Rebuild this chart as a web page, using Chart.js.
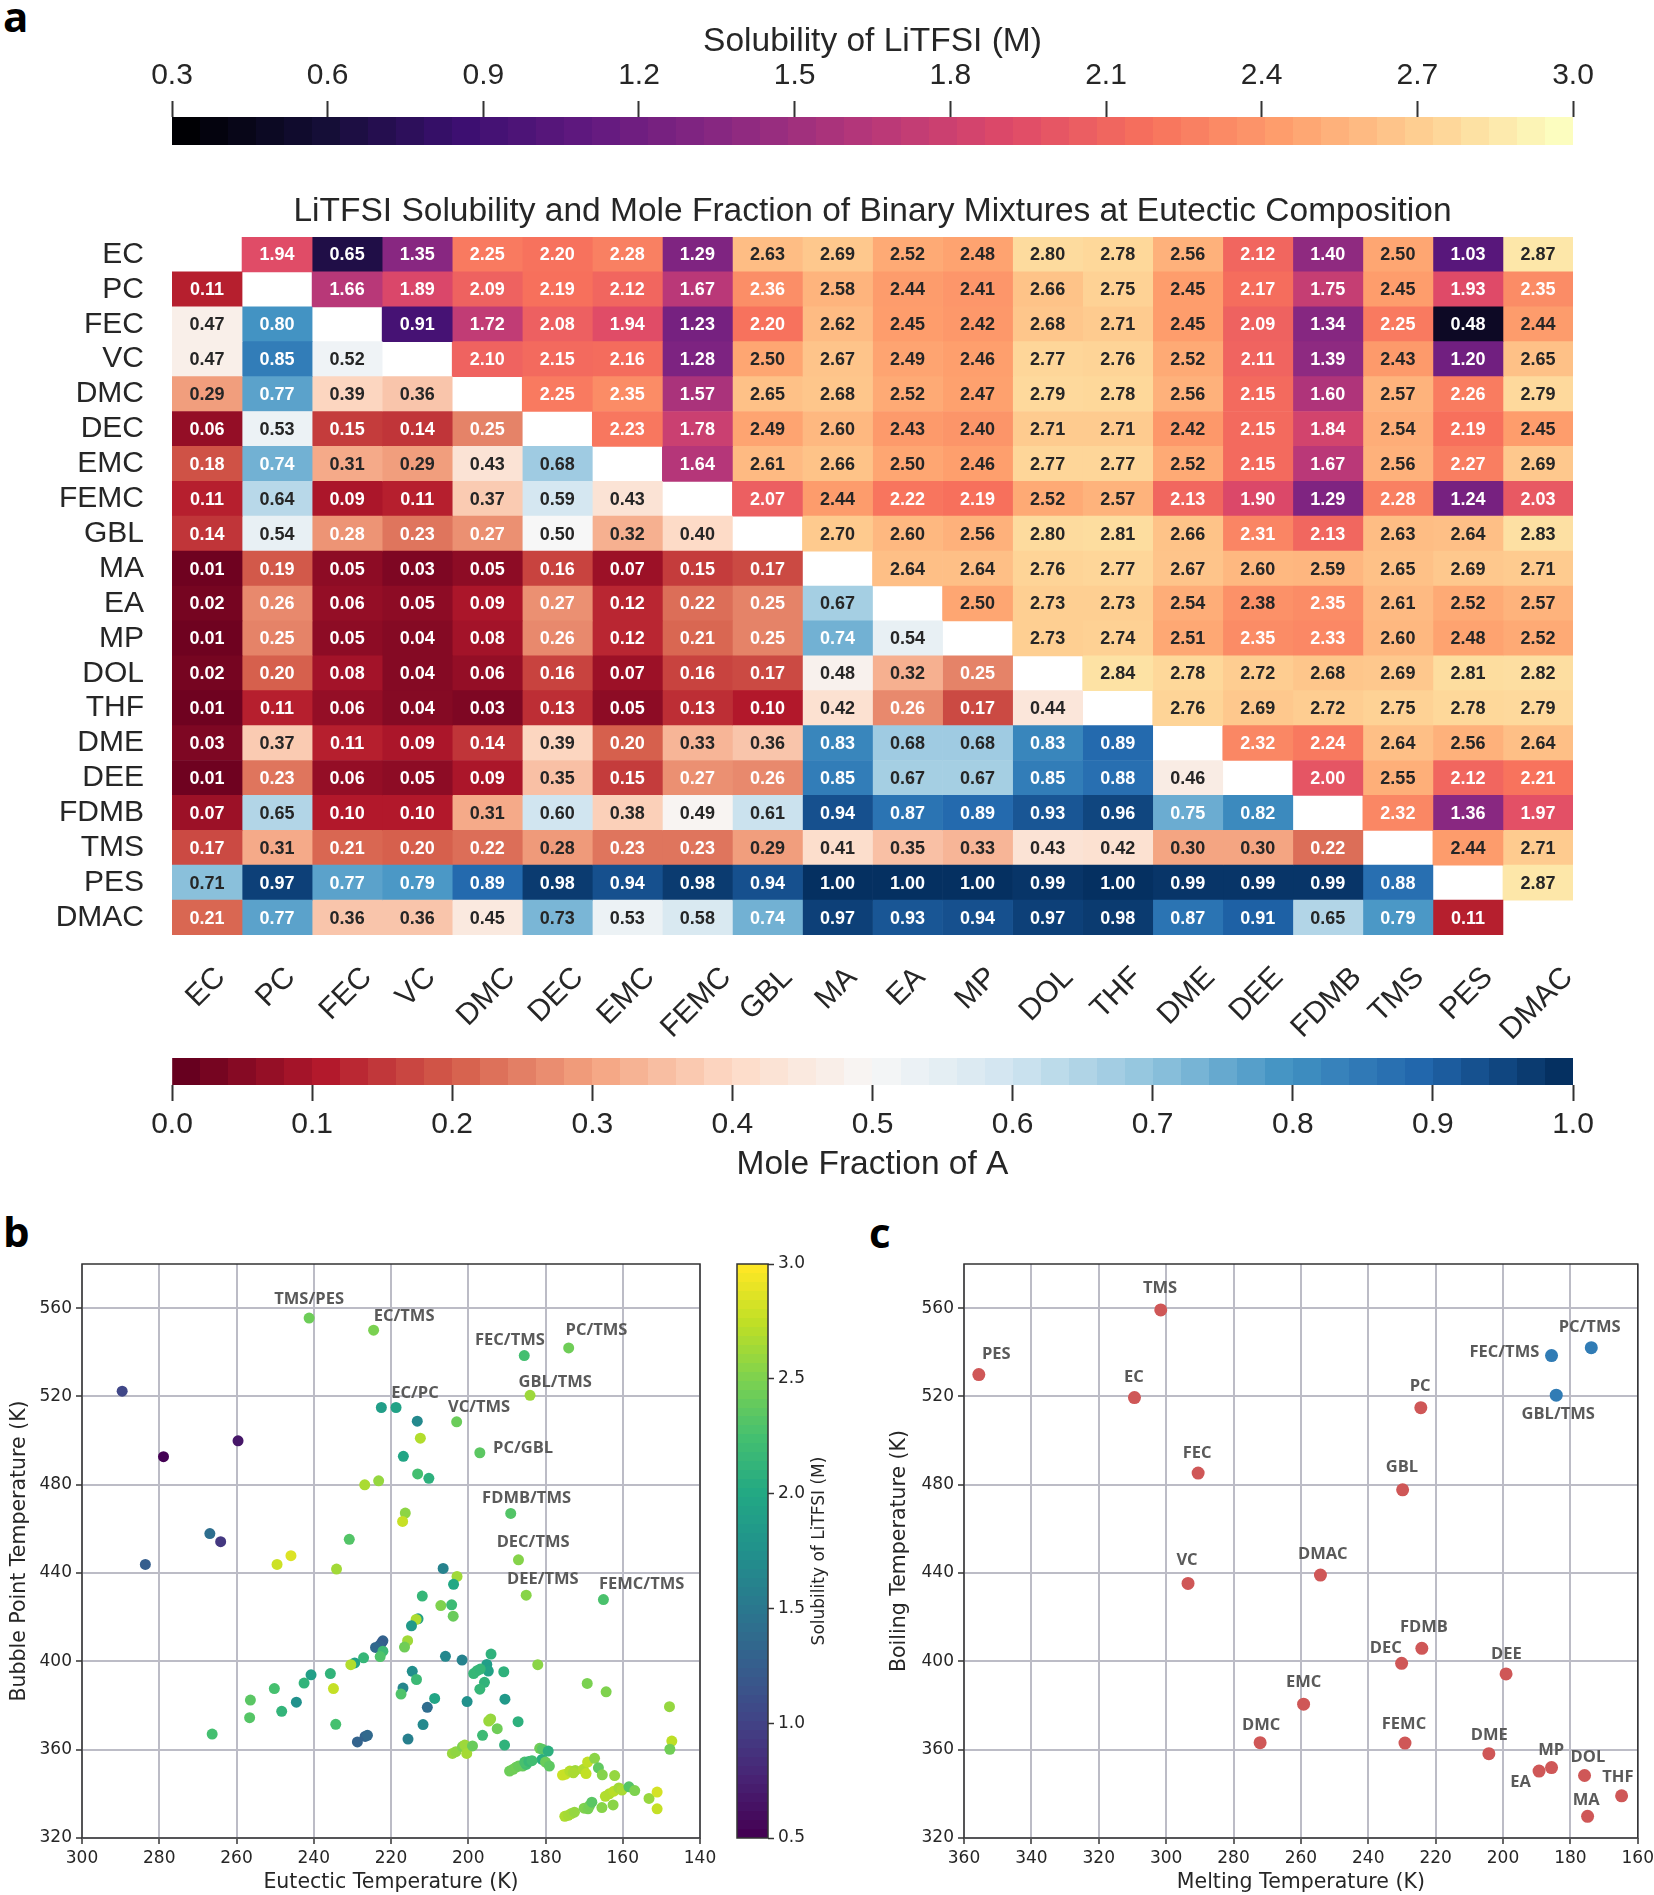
<!DOCTYPE html>
<html>
<head>
<meta charset="utf-8">
<title>LiTFSI solubility</title>
<script src="https://cdn.jsdelivr.net/npm/chart.js@4/dist/chart.umd.min.js"></script>
<style>
    html, body { margin: 0; padding: 0; background: #fff; width: 1654px; height: 1895px; overflow: hidden; }
    .panel { position: absolute; }
    .letter { position: absolute; font: 700 42px "Open Sans", sans-serif; color: #000; line-height: 42px; }
</style>
</head>
<body>
<div class="letter" style="left:3px;top:-5px">a</div>
<div class="letter" style="left:3px;top:1210px">b</div>
<div class="letter" style="left:869px;top:1211px">c</div>
<script>
    "use strict";

    var solvents = ["EC", "PC", "FEC", "VC", "DMC", "DEC", "EMC", "FEMC", "GBL", "MA", "EA", "MP", "DOL", "THF", "DME", "DEE", "FDMB", "TMS", "PES", "DMAC"];

    // above the diagonal: solubility of LiTFSI (M), below it: mole fraction of A
    var cellValues = [
        [null, 1.94, 0.65, 1.35, 2.25, 2.20, 2.28, 1.29, 2.63, 2.69, 2.52, 2.48, 2.80, 2.78, 2.56, 2.12, 1.40, 2.50, 1.03, 2.87],
        [0.11, null, 1.66, 1.89, 2.09, 2.19, 2.12, 1.67, 2.36, 2.58, 2.44, 2.41, 2.66, 2.75, 2.45, 2.17, 1.75, 2.45, 1.93, 2.35],
        [0.47, 0.80, null, 0.91, 1.72, 2.08, 1.94, 1.23, 2.20, 2.62, 2.45, 2.42, 2.68, 2.71, 2.45, 2.09, 1.34, 2.25, 0.48, 2.44],
        [0.47, 0.85, 0.52, null, 2.10, 2.15, 2.16, 1.28, 2.50, 2.67, 2.49, 2.46, 2.77, 2.76, 2.52, 2.11, 1.39, 2.43, 1.20, 2.65],
        [0.29, 0.77, 0.39, 0.36, null, 2.25, 2.35, 1.57, 2.65, 2.68, 2.52, 2.47, 2.79, 2.78, 2.56, 2.15, 1.60, 2.57, 2.26, 2.79],
        [0.06, 0.53, 0.15, 0.14, 0.25, null, 2.23, 1.78, 2.49, 2.60, 2.43, 2.40, 2.71, 2.71, 2.42, 2.15, 1.84, 2.54, 2.19, 2.45],
        [0.18, 0.74, 0.31, 0.29, 0.43, 0.68, null, 1.64, 2.61, 2.66, 2.50, 2.46, 2.77, 2.77, 2.52, 2.15, 1.67, 2.56, 2.27, 2.69],
        [0.11, 0.64, 0.09, 0.11, 0.37, 0.59, 0.43, null, 2.07, 2.44, 2.22, 2.19, 2.52, 2.57, 2.13, 1.90, 1.29, 2.28, 1.24, 2.03],
        [0.14, 0.54, 0.276, 0.23, 0.27, 0.50, 0.32, 0.40, null, 2.70, 2.60, 2.56, 2.80, 2.81, 2.66, 2.31, 2.13, 2.63, 2.64, 2.83],
        [0.01, 0.19, 0.05, 0.03, 0.05, 0.16, 0.07, 0.15, 0.17, null, 2.64, 2.64, 2.76, 2.77, 2.67, 2.60, 2.59, 2.65, 2.69, 2.71],
        [0.02, 0.26, 0.06, 0.05, 0.09, 0.27, 0.12, 0.22, 0.25, 0.67, null, 2.50, 2.73, 2.73, 2.54, 2.38, 2.35, 2.61, 2.52, 2.57],
        [0.01, 0.25, 0.05, 0.04, 0.08, 0.26, 0.12, 0.21, 0.25, 0.74, 0.54, null, 2.73, 2.74, 2.51, 2.35, 2.33, 2.60, 2.48, 2.52],
        [0.02, 0.20, 0.08, 0.04, 0.06, 0.16, 0.07, 0.16, 0.17, 0.48, 0.32, 0.25, null, 2.84, 2.78, 2.72, 2.68, 2.69, 2.81, 2.82],
        [0.01, 0.11, 0.06, 0.04, 0.03, 0.13, 0.05, 0.13, 0.10, 0.42, 0.26, 0.17, 0.44, null, 2.76, 2.69, 2.72, 2.75, 2.78, 2.79],
        [0.03, 0.37, 0.11, 0.09, 0.14, 0.39, 0.20, 0.33, 0.36, 0.83, 0.68, 0.68, 0.83, 0.89, null, 2.32, 2.24, 2.64, 2.56, 2.64],
        [0.01, 0.23, 0.06, 0.05, 0.09, 0.35, 0.15, 0.27, 0.26, 0.85, 0.67, 0.67, 0.85, 0.88, 0.46, null, 2.00, 2.55, 2.12, 2.21],
        [0.07, 0.65, 0.10, 0.10, 0.31, 0.60, 0.38, 0.49, 0.61, 0.94, 0.87, 0.89, 0.93, 0.96, 0.75, 0.82, null, 2.32, 1.36, 1.97],
        [0.17, 0.31, 0.21, 0.20, 0.22, 0.284, 0.23, 0.23, 0.29, 0.41, 0.35, 0.33, 0.43, 0.42, 0.30, 0.30, 0.22, null, 2.44, 2.71],
        [0.71, 0.97, 0.77, 0.79, 0.89, 0.98, 0.94, 0.98, 0.94, 1.00, 1.00, 1.00, 0.99, 1.00, 0.99, 0.99, 0.99, 0.88, null, 2.87],
        [0.21, 0.77, 0.36, 0.36, 0.45, 0.73, 0.53, 0.58, 0.74, 0.97, 0.93, 0.94, 0.97, 0.98, 0.87, 0.91, 0.65, 0.79, 0.11, null]
    ];

    var solubilityTicks = [0.3, 0.6, 0.9, 1.2, 1.5, 1.8, 2.1, 2.4, 2.7, 3.0];
    var fractionTicks = [0.0, 0.1, 0.2, 0.3, 0.4, 0.5, 0.6, 0.7, 0.8, 0.9, 1.0];
    var sideBarTicks = [0.5, 1.0, 1.5, 2.0, 2.5, 3.0];
    var bubbleAxisTicks = [320, 360, 400, 440, 480, 520, 560];
    var eutecticAxisTicks = [300, 280, 260, 240, 220, 200, 180, 160, 140];
    var meltingAxisTicks = [360, 340, 320, 300, 280, 260, 240, 220, 200, 180, 160];

    var eutecticTemps = [241.2, 224.5, 185.5, 174, 184, 218.7, 222.5, 203, 197, 189, 187, 185, 165, 289.6, 278.9, 259.6, 213.2, 212.4, 216.8, 213.1, 210.2, 223.2, 226.8, 283.6, 266.9, 264.1, 249.5, 245.9, 234.1, 230.8, 216.3, 217, 206.5, 202.9, 203.8, 211.9, 207.1, 204.3, 203.9, 213, 213.5, 214.7, 215.7, 216.5, 222.1, 222.5, 222.9, 224, 222.1, 222.8, 227.1, 229.4, 230.4, 235.7, 240.7, 242.5, 250.2, 256.4, 256.6, 248.3, 244.5, 234.9, 234.3, 266.3, 228.7, 226.7, 226.1, 205.9, 201.6, 194.1, 195.2, 194.8, 198.6, 197.7, 196.9, 190.8, 182, 195.8, 197, 169.2, 164.3, 147.9, 147.3, 147.8, 214.5, 213.4, 216.9, 217.4, 208.7, 210.6, 200.3, 190.5, 211.7, 215.6, 187.1, 194.2, 194.7, 192.5, 196.3, 190.6, 204.1, 203.2, 201.5, 200.9, 200.4, 198.9, 181.5, 180.8, 179.3, 180.9, 180, 179, 189.3, 188.4, 187.6, 187, 185.9, 185, 185.4, 184.3, 183.5, 175.6, 174.8, 173.7, 172.3, 172.8, 170.2, 169.5, 169.1, 167.3, 166.3, 165.3, 162.1, 175, 174.1, 173.3, 172.5, 170, 169, 168.6, 168, 165.4, 162.5, 164.5, 163.5, 162.3, 161, 160.2, 158.4, 156.9, 153.2, 151.1, 151.1];
    var bubbleTemps = [555.5, 550, 538.5, 542, 520.5, 515, 515, 508.5, 494.5, 467, 446, 430, 428, 522.4, 492.7, 499.9, 508.8, 501.1, 492.9, 484.9, 482.9, 481.8, 480, 443.9, 457.9, 454.2, 443.9, 447.9, 441.8, 455.3, 467.2, 463.4, 442.1, 438.5, 434.9, 429.6, 425.3, 425.6, 420.5, 419.3, 419, 416.1, 409.4, 406.5, 409.3, 408.2, 407.3, 406.3, 404.6, 402.2, 401.6, 399.3, 398.5, 394.5, 393.9, 390.2, 387.7, 382.5, 374.5, 377.4, 381.5, 387.7, 371.5, 367.1, 363.5, 366, 366.5, 402.3, 400.6, 403.3, 398.6, 395.6, 394.5, 395.8, 396.5, 395.3, 398.5, 390.5, 387.4, 390, 386.2, 379.5, 363.9, 360.2, 395.5, 391.8, 387.9, 385.2, 383.2, 379.2, 381.8, 382.9, 371.4, 364.8, 372.7, 373.9, 373, 369.5, 366.5, 362.1, 358.3, 359.1, 361.4, 362.1, 358.3, 361.7, 360.6, 360.2, 359.4, 355.6, 354.4, 352.6, 350.3, 351.1, 352.1, 352.6, 352.6, 353.3, 354.4, 354.7, 355, 348.5, 348.9, 350.3, 350.6, 349.5, 351.1, 349.2, 354.4, 356.1, 351.8, 348.6, 348.3, 329.8, 330.3, 331.1, 331.7, 333.5, 333.2, 334.7, 336.2, 333.8, 335, 338.9, 340, 341.2, 342.7, 341.7, 343.2, 341.5, 337.9, 340.8, 333.2];
    var mixtureSolubility = [2.44, 2.50, 2.25, 2.45, 2.63, 1.94, 1.89, 2.43, 2.36, 2.32, 2.54, 2.55, 2.28, 1.03, 0.48, 0.65, 1.67, 2.71, 1.97, 2.25, 2.09, 2.60, 2.68, 1.24, 1.40, 0.91, 2.81, 2.87, 2.65, 2.32, 2.57, 2.79, 1.60, 2.64, 2.00, 2.15, 2.52, 2.20, 2.42, 1.90, 2.69, 1.84, 2.64, 2.45, 1.29, 1.23, 1.28, 1.34, 2.20, 2.30, 2.15, 1.93, 2.71, 2.12, 1.90, 2.12, 2.26, 2.35, 2.33, 2.13, 1.75, 2.78, 2.26, 2.25, 1.29, 1.29, 1.35, 1.66, 1.60, 2.10, 1.89, 1.94, 2.16, 2.16, 2.15, 2.10, 2.56, 2.12, 2.15, 2.50, 2.52, 2.60, 2.75, 2.46, 1.72, 2.19, 1.64, 2.30, 1.97, 1.39, 1.75, 1.84, 1.67, 1.57, 2.09, 2.60, 2.62, 2.45, 2.20, 2.11, 2.61, 2.58, 2.52, 2.63, 2.66, 2.42, 2.45, 2.35, 2.08, 2.06, 2.43, 2.37, 2.44, 2.45, 2.46, 2.42, 2.41, 2.24, 2.27, 2.17, 2.23, 2.80, 2.79, 2.72, 2.64, 2.68, 2.70, 2.77, 2.76, 2.56, 2.38, 2.54, 2.60, 2.69, 2.66, 2.65, 2.60, 2.52, 2.49, 2.47, 2.35, 2.55, 2.56, 2.71, 2.70, 2.73, 2.65, 2.68, 2.33, 2.51, 2.61, 2.84, 2.78];

    var mixtureNames = ["TMS/PES", "EC/TMS", "FEC/TMS", "PC/TMS", "GBL/TMS", "EC/PC", "VC/TMS", "PC/GBL", "FDMB/TMS", "DEC/TMS", "DEE/TMS", "FEMC/TMS"];
    var mixtureNameX = [241.2, 216.6, 189.2, 166.8, 177.5, 213.8, 197.2, 185.8, 184.9, 183.2, 180.7, 155.1];
    var mixtureNameY = [564.2, 556.3, 545.5, 549.9, 526.4, 521.4, 515, 496.5, 473.8, 453.9, 437.1, 434.9];

    var pureNames = ["PES", "TMS", "EC", "PC", "FEC", "GBL", "VC", "DMAC", "FDMB", "DEC", "DEE", "EMC", "DMC", "FEMC", "DME", "EA", "MP", "DOL", "THF", "MA"];
    var pureMelting = [355.6, 301.6, 309.4, 224.4, 290.5, 229.8, 293.5, 254.2, 224.1, 230.1, 199.1, 259.2, 272.1, 229.1, 204.2, 189.3, 185.6, 175.8, 164.8, 174.9];
    var pureBoiling = [529.9, 559.2, 519.5, 514.9, 485.3, 477.7, 435.3, 439.1, 405.9, 399.1, 394.3, 380.6, 363.2, 363, 358.2, 350.3, 351.9, 348.3, 339.1, 329.8];
    var pureNameX = [350.4, 301.8, 309.6, 224.6, 290.8, 230, 293.8, 253.5, 223.5, 234.8, 199, 259.2, 271.8, 229.4, 204.1, 194.8, 185.7, 174.8, 165.9, 175.3];
    var pureNameY = [539.3, 569.2, 528.8, 524.4, 494.1, 487.9, 445.7, 448.7, 415.4, 405.9, 403.1, 390.5, 371.2, 371.6, 366.6, 345.1, 359.8, 356.5, 347.3, 337.1];

    var blendNames = ["PC/TMS", "FEC/TMS", "GBL/TMS"];
    var blendMelting = [173.8, 185.6, 184.2];
    var blendBoiling = [542.1, 538.5, 520.6];
    var blendNameX = [174.3, 199.6, 183.6];
    var blendNameY = [551.3, 539.9, 512];

    var magmaStops = ["#000004", "#140e36", "#3b0f70", "#641a80", "#8c2981", "#b73779", "#de4968", "#f7705c", "#fe9f6d", "#fecf92", "#fcfdbf"];
    var rdbuStops = ["#67001f", "#b2182b", "#d6604d", "#f4a582", "#fddbc7", "#f7f7f7", "#d1e5f0", "#92c5de", "#4393c3", "#2166ac", "#053061"];
    var viridisStops = ["#440154", "#482475", "#414487", "#355f8d", "#2a788e", "#21918c", "#22a884", "#44bf70", "#7ad151", "#bddf26", "#fde725"];

    var ARIAL = "'Liberation Sans', Arial, sans-serif";
    var DEJAVU = "'DejaVu Sans', sans-serif";
    var TEXT_DARK = "#262626";

    function HexToRgb(hex) {
        return [parseInt(hex.substr(1, 2), 16), parseInt(hex.substr(3, 2), 16), parseInt(hex.substr(5, 2), 16)];
    }

    function ColorFromStops(stops, t) {
        t = Math.max(0, Math.min(1, t));
        var pos = t * (stops.length - 1);
        var i = Math.min(Math.floor(pos), stops.length - 2);
        var a = HexToRgb(stops[i]), b = HexToRgb(stops[i + 1]), f = pos - i;
        return "rgb(" + Math.round(a[0] + (b[0] - a[0]) * f) + "," + Math.round(a[1] + (b[1] - a[1]) * f) + "," + Math.round(a[2] + (b[2] - a[2]) * f) + ")";
    }

    function SolubilityColor(v) { return ColorFromStops(magmaStops, (v - 0.3) / 2.7); }
    function FractionColor(v) { return ColorFromStops(rdbuStops, v); }
    function ViridisColor(v) { return ColorFromStops(viridisStops, (v - 0.5) / 2.5); }

    function MakeCanvas(left, top, width, height) {
        var box = document.createElement("div");
        box.className = "panel";
        box.style.cssText = "left:" + left + "px;top:" + top + "px;width:" + width + "px;height:" + height + "px";
        var canvas = document.createElement("canvas");
        canvas.width = width;
        canvas.height = height;
        canvas.style.cssText = "display:block;width:" + width + "px;height:" + height + "px";
        box.appendChild(canvas);
        document.body.appendChild(box);
        return canvas;
    }

    function FixedTicks(values) {
        return function (scale) {
            scale.ticks = values.map(function (v) { return { value: v }; });
        };
    }

    // hard-edged colour steps, like the discrete levels of the printed colour bars
    function SteppedGradient(stops, steps, vertical) {
        return function (context) {
            var area = context.chart.chartArea;
            if (!area) { return "#888"; }
            var ctx = context.chart.ctx;
            var g = vertical ? ctx.createLinearGradient(0, area.bottom, 0, area.top) : ctx.createLinearGradient(area.left, 0, area.right, 0);
            for (var i = 0; i < steps; i++) {
                var c = ColorFromStops(stops, i / (steps - 1));
                g.addColorStop(i / steps, c);
                g.addColorStop((i + 1) / steps, c);
            }
            return g;
        };
    }

    var framePlugin = {
        id: "frame",
        afterDraw: function (chart) {
            var a = chart.chartArea, ctx = chart.ctx;
            ctx.save();
            ctx.strokeStyle = "#333";
            ctx.lineWidth = 1.5;
            ctx.strokeRect(a.left, a.top, a.right - a.left, a.bottom - a.top);
            ctx.restore();
        }
    };

    function NameLabelPlugin(names, xs, ys) {
        return {
            id: "nameLabels",
            afterDatasetsDraw: function (chart) {
                var ctx = chart.ctx;
                ctx.save();
                ctx.font = "bold 16.5px 'Open Sans', sans-serif";
                ctx.fillStyle = "#5a5a5a";
                ctx.textAlign = "center";
                ctx.textBaseline = "middle";
                names.forEach(function (name, i) {
                    ctx.fillText(name, chart.scales.x.getPixelForValue(xs[i]), chart.scales.y.getPixelForValue(ys[i]));
                });
                ctx.restore();
            }
        };
    }

    // the colour bar title reads upwards, the axis title option of a right axis reads downwards
    var sideTitlePlugin = {
        id: "sideTitle",
        afterDraw: function (chart) {
            var ctx = chart.ctx, a = chart.chartArea;
            ctx.save();
            ctx.font = "17px " + DEJAVU;
            ctx.fillStyle = TEXT_DARK;
            ctx.textAlign = "center";
            ctx.textBaseline = "middle";
            ctx.translate(a.right + 52, (a.top + a.bottom) / 2);
            ctx.rotate(-Math.PI / 2);
            ctx.fillText("Solubility of LiTFSI (M)", 0, 0);
            ctx.restore();
        }
    };

    var cellTextPlugin = {
        id: "cellText",
        afterDatasetsDraw: function (chart) {
            var ctx = chart.ctx;
            ctx.save();
            ctx.font = "bold 18px " + ARIAL;
            ctx.textAlign = "center";
            ctx.textBaseline = "middle";
            cellValues.forEach(function (row, r) {
                row.forEach(function (v, c) {
                    if (v === null) { return; }
                    var upper = c > r;
                    var light = upper ? v < 2.37 : (v < 0.28 || v > 0.735);
                    ctx.fillStyle = light ? "#fff" : TEXT_DARK;
                    ctx.fillText(v.toFixed(2), chart.scales.x.getPixelForValue(c + 0.5), chart.scales.y.getPixelForValue(r) + 1);
                });
            });
            ctx.restore();
        }
    };

    var columnLabelPlugin = {
        id: "columnLabels",
        afterDraw: function (chart) {
            var ctx = chart.ctx;
            var top = chart.chartArea.bottom + 30;
            ctx.save();
            ctx.font = "30px " + ARIAL;
            ctx.fillStyle = TEXT_DARK;
            ctx.textAlign = "center";
            ctx.textBaseline = "middle";
            solvents.forEach(function (name, i) {
                var w = ctx.measureText(name).width;
                var span = (w + 22) * Math.SQRT1_2;
                ctx.save();
                ctx.translate(chart.scales.x.getPixelForValue(i + 0.5) - 1, top + span / 2);
                ctx.rotate(-Math.PI / 4);
                ctx.fillText(name, 0, 0);
                ctx.restore();
            });
            ctx.restore();
        }
    };

    function DrawHeatmap() {
        var datasets = solvents.map(function (name, c) {
            return {
                label: name,
                data: cellValues.map(function (row, r) {
                    return r === c ? null : [c, c + 1];
                }),
                grouped: false,
                barPercentage: 1,
                categoryPercentage: 1,
                borderWidth: 0,
                backgroundColor: function (context) {
                    var v = cellValues[context.dataIndex][c];
                    if (v === null) { return "rgba(0,0,0,0)"; }
                    return context.dataIndex < c ? SolubilityColor(v) : FractionColor(v);
                }
            };
        });
        new Chart(MakeCanvas(0, 191, 1654, 861), {
            type: "bar",
            data: { labels: solvents, datasets: datasets },
            plugins: [cellTextPlugin, columnLabelPlugin],
            options: {
                indexAxis: "y",
                responsive: false,
                animation: false,
                layout: { padding: { left: 0, right: 81, top: 0, bottom: 117 } },
                plugins: {
                    legend: { display: false },
                    tooltip: { enabled: false },
                    title: {
                        display: true,
                        fullSize: false,
                        text: "LiTFSI Solubility and Mole Fraction of Binary Mixtures at Eutectic Composition",
                        color: TEXT_DARK,
                        font: { family: ARIAL, size: 33.5, weight: "normal", lineHeight: "38px" },
                        padding: { top: 0, bottom: 6 }
                    }
                },
                scales: {
                    x: { type: "linear", min: 0, max: 20, display: false },
                    y: {
                        type: "category",
                        afterFit: function (scale) { scale.width = 172; },
                        grid: { display: false, drawTicks: false },
                        border: { display: false },
                        ticks: { color: TEXT_DARK, autoSkip: false, font: { family: ARIAL, size: 30 }, padding: 28 }
                    }
                }
            }
        });
    }

    function DrawSolubilityBar() {
        new Chart(MakeCanvas(0, 0, 1654, 150), {
            type: "bar",
            data: {
                labels: [""],
                datasets: [{
                    data: [[0.3, 3.0]],
                    barPercentage: 1,
                    categoryPercentage: 1,
                    borderWidth: 0,
                    backgroundColor: SteppedGradient(magmaStops, 50, false)
                }]
            },
            options: {
                indexAxis: "y",
                responsive: false,
                animation: false,
                layout: { padding: { left: 172, right: 81, top: 0, bottom: 5 } },
                plugins: { legend: { display: false }, tooltip: { enabled: false } },
                scales: {
                    y: { display: false },
                    x: {
                        type: "linear",
                        position: "top",
                        min: 0.3,
                        max: 3.0,
                        afterBuildTicks: FixedTicks(solubilityTicks),
                        afterFit: function (scale) { scale.height = 117; },
                        border: { display: false },
                        grid: { drawOnChartArea: false, tickLength: 16, tickWidth: 2, tickColor: "#333" },
                        ticks: {
                            color: TEXT_DARK,
                            maxRotation: 0,
                            padding: 7,
                            font: { family: ARIAL, size: 30 },
                            callback: function (v) { return v.toFixed(1); }
                        },
                        title: {
                            display: true,
                            text: "Solubility of LiTFSI (M)",
                            color: TEXT_DARK,
                            font: { family: ARIAL, size: 33.5, lineHeight: "38px" },
                            padding: { top: 23, bottom: 0 }
                        }
                    }
                }
            }
        });
    }

    function DrawFractionBar() {
        new Chart(MakeCanvas(0, 1040, 1654, 150), {
            type: "bar",
            data: {
                labels: [""],
                datasets: [{
                    data: [[0, 1]],
                    barPercentage: 1,
                    categoryPercentage: 1,
                    borderWidth: 0,
                    backgroundColor: SteppedGradient(rdbuStops, 50, false)
                }]
            },
            options: {
                indexAxis: "y",
                responsive: false,
                animation: false,
                layout: { padding: { left: 172, right: 81, top: 18, bottom: 0 } },
                plugins: { legend: { display: false }, tooltip: { enabled: false } },
                scales: {
                    y: { display: false },
                    x: {
                        type: "linear",
                        min: 0,
                        max: 1,
                        afterBuildTicks: FixedTicks(fractionTicks),
                        afterFit: function (scale) { scale.height = 105; },
                        border: { display: false },
                        grid: { drawOnChartArea: false, tickLength: 16, tickWidth: 2, tickColor: "#333" },
                        ticks: {
                            color: TEXT_DARK,
                            maxRotation: 0,
                            padding: 6,
                            font: { family: ARIAL, size: 30 },
                            callback: function (v) { return v.toFixed(1); }
                        },
                        title: {
                            display: true,
                            text: "Mole Fraction of A",
                            color: TEXT_DARK,
                            font: { family: ARIAL, size: 33.5, lineHeight: "38px" },
                            padding: { top: 0, bottom: 6 }
                        }
                    }
                }
            }
        });
    }

    function ScatterAxis(title, min, max, ticks, reverse, size, titlePad) {
        var axis = {
            type: "linear",
            min: min,
            max: max,
            reverse: reverse,
            afterBuildTicks: FixedTicks(ticks),
            border: { display: false },
            grid: { color: "#bcbcc6", lineWidth: 2, tickLength: 6, tickWidth: 1.5, tickColor: "#333" },
            ticks: { color: TEXT_DARK, maxRotation: 0, padding: 4, font: { family: DEJAVU, size: 17 }, callback: function (v) { return String(v); } },
            title: { display: true, text: title, color: TEXT_DARK, font: { family: DEJAVU, size: 20.5, lineHeight: "24px" }, padding: { top: titlePad, bottom: 0 } }
        };
        if (size.width) { axis.afterFit = function (scale) { scale.width = size.width; }; }
        if (size.height) { axis.afterFit = function (scale) { scale.height = size.height; }; }
        return axis;
    }

    function DrawEutecticScatter() {
        new Chart(MakeCanvas(0, 1234, 722, 661), {
            type: "scatter",
            data: {
                datasets: [{
                    data: eutecticTemps.map(function (t, i) { return { x: t, y: bubbleTemps[i] }; }),
                    pointRadius: 5.5,
                    pointBorderWidth: 0,
                    pointBackgroundColor: mixtureSolubility.map(ViridisColor)
                }]
            },
            plugins: [framePlugin, NameLabelPlugin(mixtureNames, mixtureNameX, mixtureNameY)],
            options: {
                responsive: false,
                animation: false,
                layout: { padding: { left: 0, right: 22, top: 30, bottom: 0 } },
                plugins: { legend: { display: false }, tooltip: { enabled: false } },
                scales: {
                    x: ScatterAxis("Eutectic Temperature (K)", 140, 300, eutecticAxisTicks, true, { height: 57 }, 0),
                    y: ScatterAxis("Bubble Point Temperature (K)", 320, 580, bubbleAxisTicks, false, { width: 82 }, 8)
                }
            }
        });
    }

    function DrawSideBar() {
        new Chart(MakeCanvas(722, 1234, 110, 661), {
            type: "bar",
            data: {
                labels: [""],
                datasets: [{
                    data: [[0.5, 3.0]],
                    barPercentage: 1,
                    categoryPercentage: 1,
                    borderWidth: 0,
                    backgroundColor: SteppedGradient(viridisStops, 64, true)
                }]
            },
            plugins: [framePlugin, sideTitlePlugin],
            options: {
                responsive: false,
                animation: false,
                layout: { padding: { left: 15, right: 0, top: 30, bottom: 57 } },
                plugins: { legend: { display: false }, tooltip: { enabled: false } },
                scales: {
                    x: { display: false },
                    y: {
                        type: "linear",
                        position: "right",
                        min: 0.5,
                        max: 3.0,
                        afterBuildTicks: FixedTicks(sideBarTicks),
                        afterFit: function (scale) { scale.width = 64; },
                        border: { display: false },
                        grid: { drawOnChartArea: false, tickLength: 6, tickWidth: 1.5, tickColor: "#333" },
                        ticks: { color: TEXT_DARK, padding: 4, font: { family: DEJAVU, size: 17 }, callback: function (v) { return v.toFixed(1); } }
                    }
                }
            }
        });
    }

    function DrawMeltingScatter() {
        new Chart(MakeCanvas(860, 1234, 798, 661), {
            type: "scatter",
            data: {
                datasets: [{
                    data: pureMelting.map(function (t, i) { return { x: t, y: pureBoiling[i] }; }),
                    pointRadius: 6.5,
                    pointBorderWidth: 0,
                    pointBackgroundColor: "#cf5757"
                }, {
                    data: blendMelting.map(function (t, i) { return { x: t, y: blendBoiling[i] }; }),
                    pointRadius: 6.5,
                    pointBorderWidth: 0,
                    pointBackgroundColor: "#317cb5"
                }]
            },
            plugins: [framePlugin, NameLabelPlugin(pureNames.concat(blendNames), pureNameX.concat(blendNameX), pureNameY.concat(blendNameY))],
            options: {
                responsive: false,
                animation: false,
                layout: { padding: { left: 0, right: 20, top: 30, bottom: 0 } },
                plugins: { legend: { display: false }, tooltip: { enabled: false } },
                scales: {
                    x: ScatterAxis("Melting Temperature (K)", 160, 360, meltingAxisTicks, true, { height: 57 }, 0),
                    y: ScatterAxis("Boiling Temperature (K)", 320, 580, bubbleAxisTicks, false, { width: 104 }, 28)
                }
            }
        });
    }

    function Init() {
        DrawSolubilityBar();
        DrawHeatmap();
        DrawFractionBar();
        DrawEutecticScatter();
        DrawSideBar();
        DrawMeltingScatter();
    }

    Init();
</script>
</body>
</html>
